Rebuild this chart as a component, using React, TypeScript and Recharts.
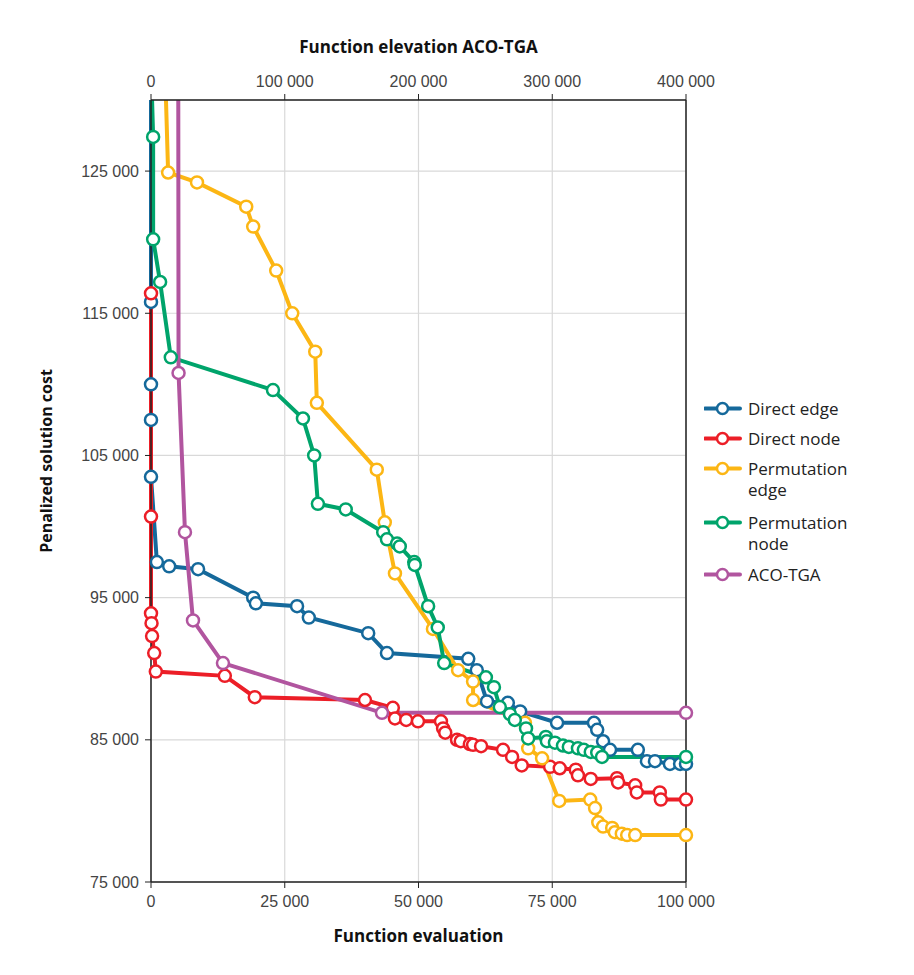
import React from 'react';
import { LineChart, Line, XAxis, YAxis, CartesianGrid, ReferenceLine } from 'recharts';

// Direct edge
const directEdgeX = [0, 0, 0, 0, 0, 1100, 3400, 8800, 19100, 19600, 27300, 29500, 40600, 44100, 59300, 60900, 62800, 66700, 69000, 75900, 82800, 83400, 84500, 85800, 91000, 92700, 94200, 97000, 98900, 100000];
const directEdgeY = [130000, 115800, 110000, 107500, 103500, 97500, 97200, 97000, 95000, 94600, 94400, 93600, 92500, 91100, 90700, 89900, 87700, 87600, 87000, 86200, 86200, 85700, 84900, 84300, 84300, 83500, 83500, 83300, 83300, 83300];

// Direct node
const directNodeX = [0, 0, 0, 100, 200, 600, 900, 13800, 19400, 40000, 45200, 45600, 47700, 49900, 54200, 54600, 55000, 57200, 57900, 59600, 60200, 61700, 65800, 67500, 69300, 74600, 76400, 79400, 79800, 82200, 87100, 87300, 90500, 90800, 95100, 95300, 100000];
const directNodeY = [116400, 100700, 93900, 93200, 92300, 91100, 89800, 89500, 88000, 87800, 87250, 86500, 86400, 86300, 86300, 85800, 85500, 85000, 84900, 84700, 84650, 84550, 84300, 83800, 83200, 83100, 83000, 82900, 82500, 82250, 82300, 82000, 81800, 81300, 81300, 80800, 80800];

// Permutation edge
const permEdgeX = [2800, 3200, 8600, 17800, 19100, 23400, 26400, 30700, 31000, 42200, 43700, 45600, 52700, 57400, 60200, 60200, 69900, 70500, 73100, 76300, 82100, 83000, 83600, 84500, 86200, 86700, 88000, 89000, 90500, 100000];
const permEdgeY = [130000, 124900, 124200, 122500, 121100, 118000, 115000, 112300, 108700, 104000, 100300, 96700, 92800, 89900, 89100, 87800, 86200, 84400, 83700, 80700, 80800, 80200, 79200, 78900, 78800, 78500, 78400, 78300, 78300, 78300];

// Permutation node
const permNodeX = [200, 400, 400, 1700, 3700, 22800, 28400, 30500, 31200, 36400, 43400, 44100, 46000, 46500, 49200, 49300, 51800, 53600, 54800, 62600, 64100, 65200, 67100, 68000, 70100, 70500, 73800, 74000, 75500, 77000, 78100, 79800, 80900, 82200, 83400, 84300, 100000];
const permNodeY = [130000, 127400, 120200, 117200, 111900, 109600, 107600, 105000, 101600, 101200, 99600, 99100, 98800, 98600, 97500, 97300, 94400, 92900, 90400, 89400, 88700, 87300, 86800, 86400, 85800, 85100, 85200, 84900, 84800, 84600, 84500, 84400, 84300, 84150, 84100, 83800, 83800];

// ACO-TGA (top axis)
const acoX = [20400, 20600, 25400, 31400, 53800, 172700, 400000];
const acoY = [130000, 110800, 99600, 93400, 90400, 86900, 86900];

const bottomTicks = [0, 25000, 50000, 75000, 100000];
const topTicks = [0, 100000, 200000, 300000, 400000];
const yTicks = [75000, 85000, 95000, 105000, 115000, 125000];

const zip = (xs: number[], ys: number[]) => xs.map((x, i) => ({ x, y: ys[i] }));

const series = [
  { name: 'Direct edge', lines: ['Direct edge'], color: '#15699b', data: zip(directEdgeX, directEdgeY), axis: 'bottom', skipFirst: true },
  { name: 'Direct node', lines: ['Direct node'], color: '#ec1e27', data: zip(directNodeX, directNodeY), axis: 'bottom', skipFirst: false },
  { name: 'Permutation edge', lines: ['Permutation', 'edge'], color: '#fcb614', data: zip(permEdgeX, permEdgeY), axis: 'bottom', skipFirst: true },
  { name: 'Permutation node', lines: ['Permutation', 'node'], color: '#00a46b', data: zip(permNodeX, permNodeY), axis: 'bottom', skipFirst: true },
  { name: 'ACO-TGA', lines: ['ACO-TGA'], color: '#b1559f', data: zip(acoX, acoY), axis: 'top', skipFirst: true },
];

const fmt = (v: number) => (v === 0 ? '0' : `${Math.round(v / 1000)} 000`);

const tickFont = { fontFamily: "'Liberation Sans', Arial, sans-serif", fontSize: 16, fill: '#444' };
const titleFont = "'Open Sans', 'Noto Sans', sans-serif";

const makeDot = (color: string, skipFirst: boolean) => (props: any) => {
  const { cx, cy, index } = props;
  if ((skipFirst && index === 0) || cx == null || cy == null) return <g key={`e${index}`} />;
  return <circle key={`d${index}`} cx={cx} cy={cy} r={6} fill="#fff" stroke={color} strokeWidth={2.5} />;
};

const BottomTitle = (props: any) => {
  const vb = props.viewBox;
  return (
    <text x={vb.x + vb.width / 2} y={vb.y + 60} textAnchor="middle" fontFamily={titleFont} fontWeight={700} fontSize={17} fill="#111">
      Function evaluation
    </text>
  );
};

const TopTitle = (props: any) => {
  const vb = props.viewBox;
  return (
    <text x={vb.x + vb.width / 2} y={vb.y + 13} textAnchor="middle" fontFamily={titleFont} fontWeight={700} fontSize={17} fill="#111">
      Function elevation ACO-TGA
    </text>
  );
};

const LeftTitle = (props: any) => {
  const vb = props.viewBox;
  const x = vb.x + 11;
  const y = 461;
  return (
    <text x={x} y={y} transform={`rotate(-90, ${x}, ${y})`} textAnchor="middle" fontFamily={titleFont} fontWeight={700} fontSize={16} fill="#111">
      Penalized solution cost
    </text>
  );
};

const legendTops = [398, 428, 458, 512, 564];

// page offset of the body margin
const off = 8;

const App: React.FC = () => {
  return (
    <div style={{ width: 898, height: 952, position: 'relative' }}>
      <div style={{ position: 'absolute', left: 4 - off, top: 5 - off, width: 2, height: 975 - 5, background: '#444' }} />
      <div style={{ position: 'absolute', left: 4 - off, top: 5 - off, width: 914 - 4 - off - 2, height: 2, background: '#444' }} />
      <div style={{ position: 'absolute', left: -off, top: -off }}>
        <LineChart width={906} height={960} margin={{ top: 40, left: 41, right: 220, bottom: 18 }}>
          <CartesianGrid xAxisId="bottom" stroke="#d9d9d9" strokeWidth={1.2} />
          <XAxis
            xAxisId="bottom"
            type="number"
            dataKey="x"
            domain={[0, 100000]}
            ticks={bottomTicks}
            tickFormatter={fmt}
            height={60}
            tick={tickFont}
            tickSize={6}
            tickMargin={8}
            axisLine={{ stroke: '#222', strokeWidth: 1.5 }}
            tickLine={{ stroke: '#222' }}
            label={<BottomTitle />}
          />
          <XAxis
            xAxisId="top"
            orientation="top"
            type="number"
            dataKey="x"
            domain={[0, 400000]}
            ticks={topTicks}
            tickFormatter={fmt}
            height={60}
            tick={tickFont}
            tickSize={6}
            tickMargin={7}
            axisLine={{ stroke: '#222', strokeWidth: 1.5 }}
            tickLine={{ stroke: '#222' }}
            label={<TopTitle />}
          />
          <YAxis
            type="number"
            dataKey="y"
            domain={[75000, 130000]}
            ticks={yTicks}
            tickFormatter={fmt}
            width={110}
            tick={tickFont}
            tickSize={6}
            tickMargin={6}
            axisLine={{ stroke: '#222', strokeWidth: 1.5 }}
            tickLine={{ stroke: '#222' }}
            label={<LeftTitle />}
          />
          <ReferenceLine xAxisId="bottom" x={100000} stroke="#222" strokeWidth={1.5} />
          {series.map((s) => (
            <Line
              key={s.name}
              name={s.name}
              xAxisId={s.axis}
              data={s.data}
              dataKey="y"
              type="linear"
              stroke={s.color}
              strokeWidth={4}
              dot={makeDot(s.color, s.skipFirst)}
              activeDot={false}
              isAnimationActive={false}
            />
          ))}
        </LineChart>
      </div>
      {series.map((s, i) => (
        <div
          key={s.name}
          style={{ position: 'absolute', left: 704 - off, top: legendTops[i] - off, display: 'flex', alignItems: 'flex-start', fontFamily: titleFont, fontSize: 17, lineHeight: '21px', color: '#222' }}
        >
          <svg width={38} height={21} style={{ flexShrink: 0 }}>
            <line x1={1} y1={10.5} x2={36} y2={10.5} stroke={s.color} strokeWidth={4} strokeLinecap="round" />
            <circle cx={18.5} cy={10.5} r={5.5} fill="#fff" stroke={s.color} strokeWidth={2.5} />
          </svg>
          <div style={{ marginLeft: 6 }}>
            {s.lines.map((l) => (
              <div key={l}>{l}</div>
            ))}
          </div>
        </div>
      ))}
    </div>
  );
};

export default App;
